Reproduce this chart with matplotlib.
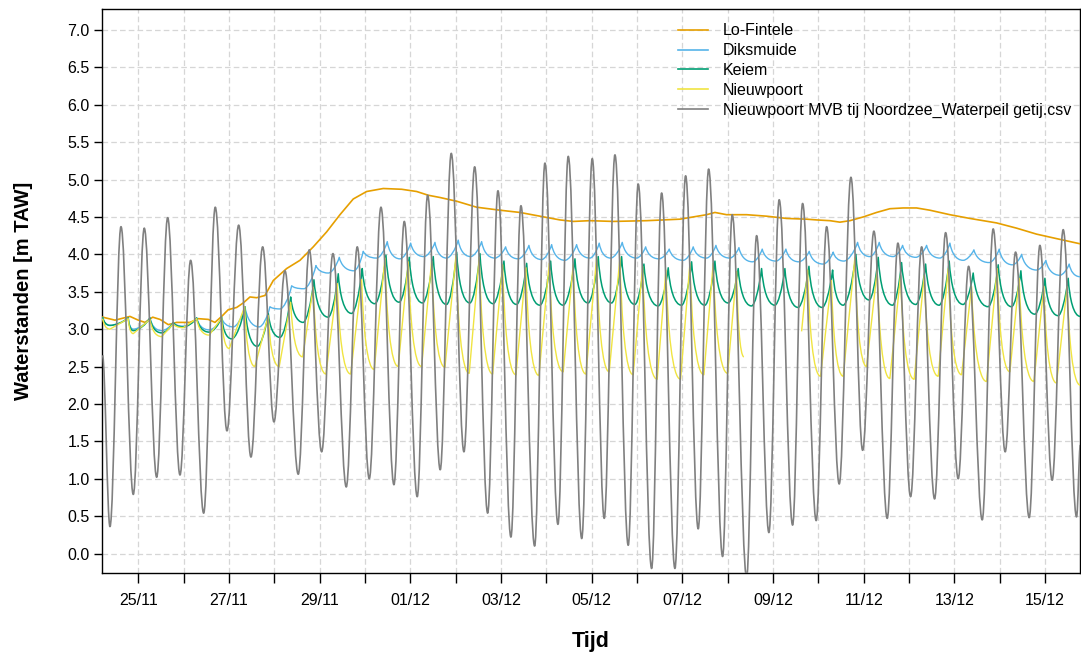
from datetime import datetime

import matplotlib
matplotlib.use("Agg")
import matplotlib.dates as mdates
import matplotlib.pyplot as plt
import numpy as np
from matplotlib.lines import Line2D
from matplotlib.patches import PathPatch
from matplotlib.path import Path
from matplotlib.ticker import FixedLocator, FormatStrFormatter

plt.rcParams["font.family"] = ["Liberation Sans", "DejaVu Sans"]

# time axis: days since 25/11 00:00, values in m TAW
START = datetime(2023, 11, 25)

# Lo-Fintele
t_lofintele = [-0.785, -0.514, -0.183, 0.000, 0.148, 0.318, 0.479, 0.662, 0.847, 1.140,
               1.323, 1.544, 1.691, 1.839, 1.985, 2.170, 2.315, 2.463, 2.610, 2.794,
               2.977, 3.272, 3.566, 3.859, 4.154, 4.448, 4.741, 5.036, 5.402, 5.808,
               6.139, 6.395, 6.653, 7.021, 7.462, 7.976, 8.417, 8.858, 9.299, 9.592,
               9.960, 10.474, 11.210, 11.945, 12.238, 12.533, 12.717, 12.975, 13.416, 13.857,
               14.298, 14.739, 14.959, 15.253, 15.473, 15.694, 15.987, 16.282, 16.575, 16.869,
               17.164, 17.457, 17.898, 18.339, 18.928, 19.369, 19.810, 20.251, 20.776]
v_lofintele = [3.16, 3.12, 3.17, 3.12, 3.09, 3.16, 3.13, 3.06, 3.09, 3.09,
               3.14, 3.13, 3.09, 3.17, 3.26, 3.29, 3.35, 3.43, 3.42, 3.45,
               3.65, 3.81, 3.92, 4.10, 4.30, 4.53, 4.74, 4.84, 4.88, 4.87,
               4.84, 4.79, 4.76, 4.71, 4.63, 4.59, 4.56, 4.51, 4.46, 4.44,
               4.45, 4.44, 4.45, 4.47, 4.50, 4.53, 4.56, 4.53, 4.53, 4.51,
               4.48, 4.47, 4.46, 4.45, 4.43, 4.45, 4.50, 4.56, 4.61, 4.62,
               4.62, 4.59, 4.53, 4.48, 4.42, 4.35, 4.27, 4.21, 4.14]

# Diksmuide
t_diksmuide = [-0.785, -0.624, -0.221, -0.110, 0.258, 0.516, 0.772, 0.992, 1.288, 1.566,
               1.839, 2.095, 2.353, 2.668, 2.904, 3.125, 3.383, 3.654, 3.918, 4.194,
               4.432, 4.756, 4.961, 5.257, 5.491, 5.771, 6.007, 6.300, 6.543, 6.800,
               7.056, 7.330, 7.572, 7.865, 8.101, 8.379, 8.615, 8.895, 9.116, 9.409,
               9.667, 9.960, 10.165, 10.417, 10.673, 10.990, 11.189, 11.482, 11.709, 12.018,
               12.238, 12.533, 12.739, 13.047, 13.246, 13.548, 13.760, 14.062, 14.282, 14.569,
               14.796, 15.105, 15.325, 15.561, 15.863, 16.135, 16.340, 16.648, 16.856, 17.149,
               17.385, 17.678, 17.899, 18.192, 18.428, 18.765, 18.986, 19.281, 19.480, 19.810,
               20.015, 20.324, 20.529, 20.776]
v_diksmuide = [3.16, 3.05, 3.15, 3.00, 3.15, 2.98, 3.09, 3.04, 3.15, 2.99,
               3.15, 3.03, 3.30, 3.03, 3.30, 3.27, 3.58, 3.54, 3.85, 3.75,
               3.96, 3.78, 4.04, 3.95, 4.17, 3.94, 4.15, 3.97, 4.16, 3.95,
               4.19, 3.97, 4.17, 3.95, 4.10, 3.94, 4.12, 3.93, 4.13, 3.92,
               4.13, 3.95, 4.15, 3.95, 4.16, 3.95, 4.10, 3.94, 4.07, 3.92,
               4.10, 3.95, 4.12, 3.95, 4.09, 3.90, 4.07, 3.91, 4.07, 3.90,
               4.04, 3.87, 4.03, 3.91, 4.16, 3.97, 4.16, 3.97, 4.12, 3.96,
               4.12, 3.95, 4.15, 3.92, 4.06, 3.89, 4.07, 3.86, 4.00, 3.79,
               3.92, 3.72, 3.87, 3.70]

# Keiem
t_keiem = [-0.785, -0.624, -0.221, -0.110, 0.258, 0.516, 0.772, 0.992, 1.288, 1.566,
           1.839, 2.060, 2.353, 2.624, 2.867, 3.125, 3.361, 3.638, 3.874, 4.190,
           4.410, 4.706, 4.939, 5.219, 5.462, 5.755, 5.976, 6.271, 6.505, 6.800,
           7.021, 7.314, 7.535, 7.828, 8.064, 8.344, 8.565, 8.858, 9.094, 9.371,
           9.630, 9.923, 10.143, 10.439, 10.659, 10.953, 11.151, 11.466, 11.687, 11.982,
           12.203, 12.496, 12.717, 13.010, 13.230, 13.526, 13.746, 14.040, 14.260, 14.553,
           14.790, 15.083, 15.312, 15.546, 15.826, 16.119, 16.318, 16.635, 16.833, 17.149,
           17.363, 17.663, 17.883, 18.192, 18.412, 18.743, 18.964, 19.259, 19.464, 19.773,
           19.994, 20.287, 20.507, 20.776]
v_keiem = [3.16, 3.05, 3.15, 2.98, 3.15, 2.95, 3.09, 3.03, 3.15, 2.96,
           3.16, 2.87, 3.30, 2.77, 3.21, 2.89, 3.43, 3.09, 3.66, 3.16,
           3.74, 3.21, 3.81, 3.34, 3.99, 3.36, 3.96, 3.35, 3.97, 3.33,
           4.03, 3.35, 4.01, 3.34, 3.91, 3.33, 3.88, 3.32, 3.91, 3.32,
           3.94, 3.35, 3.97, 3.35, 3.97, 3.33, 3.87, 3.31, 3.82, 3.32,
           3.90, 3.32, 3.91, 3.35, 3.81, 3.31, 3.81, 3.32, 3.81, 3.29,
           3.84, 3.29, 3.79, 3.32, 4.00, 3.39, 3.96, 3.32, 3.89, 3.33,
           3.87, 3.32, 3.91, 3.33, 3.75, 3.30, 3.86, 3.30, 3.78, 3.20,
           3.68, 3.18, 3.68, 3.17]

# Nieuwpoort (gap in the record around 08/12)
t_nieuwpoort = [-0.785, -0.624, -0.221, -0.110, 0.258, 0.516, 0.772, 0.992, 1.288, 1.566,
                1.839, 2.007, 2.346, 2.573, 2.867, 3.109, 3.361, 3.625, 3.859, 4.139,
                4.388, 4.684, 4.926, 5.204, 5.440, 5.733, 5.954, 6.249, 6.470, 6.763,
                7.006, 7.299, 7.519, 7.815, 8.035, 8.329, 8.549, 8.836, 9.063, 9.372,
                9.592, 9.872, 10.108, 10.386, 10.622, 10.915, 11.122, 11.444, 11.636, 11.960,
                12.165, 12.474, 12.679, 12.997, 13.195, 13.356, 14.000, 14.628, 14.761, 15.047,
                15.286, 15.546, 15.804, 16.062, 16.295, 16.575, 16.811, 17.111, 17.332, 17.641,
                17.861, 18.157, 18.377, 18.708, 18.942, 19.222, 19.427, 19.751, 19.971, 20.251,
                20.485, 20.776]
v_nieuwpoort = [3.14, 3.00, 3.14, 2.94, 3.13, 2.90, 3.07, 3.02, 3.14, 2.92,
                3.15, 2.74, 3.30, 2.50, 3.18, 2.50, 3.36, 2.63, 3.56, 2.40,
                3.61, 2.40, 3.66, 2.46, 3.95, 2.50, 3.90, 2.50, 3.91, 2.49,
                3.98, 2.41, 3.96, 2.40, 3.86, 2.39, 3.82, 2.38, 3.88, 2.43,
                3.86, 2.40, 3.95, 2.43, 3.95, 2.39, 3.84, 2.33, 3.79, 2.33,
                3.88, 2.39, 3.88, 2.41, 3.77, 2.63, np.nan, 2.97, 3.79, 2.37,
                3.65, 2.37, 3.96, 2.50, 3.79, 2.34, 3.72, 2.33, 3.72, 2.37,
                3.81, 2.39, 3.57, 2.30, 3.81, 2.43, 3.68, 2.30, 3.57, 2.28,
                3.57, 2.25]

# Nieuwpoort MVB (sea side) - high and low waters
t_getij = [-0.789, -0.624, -0.381, -0.110, 0.132, 0.406, 0.648, 0.920, 1.155, 1.442,
           1.698, 1.956, 2.214, 2.485, 2.743, 2.992, 3.235, 3.528, 3.771, 4.044,
           4.293, 4.587, 4.829, 5.094, 5.352, 5.638, 5.866, 6.152, 6.381, 6.659,
           6.902, 7.182, 7.418, 7.705, 7.932, 8.218, 8.439, 8.741, 8.968, 9.255,
           9.482, 9.780, 10.011, 10.276, 10.512, 10.805, 11.025, 11.321, 11.541, 11.835,
           12.070, 12.348, 12.578, 12.886, 13.098, 13.416, 13.636, 13.907, 14.134, 14.430,
           14.650, 14.950, 15.180, 15.458, 15.716, 15.974, 16.223, 16.516, 16.752, 17.032,
           17.275, 17.561, 17.804, 18.082, 18.311, 18.611, 18.853, 19.118, 19.347, 19.647,
           19.883, 20.154, 20.397, 20.692, 20.776]
v_getij = [2.65, 0.36, 4.37, 0.79, 4.35, 1.02, 4.49, 1.05, 3.92, 0.54,
           4.63, 1.64, 4.39, 1.29, 4.10, 1.76, 3.78, 1.06, 4.06, 1.36,
           4.01, 0.89, 4.10, 1.00, 4.63, 0.92, 4.44, 0.76, 4.79, 1.12,
           5.35, 1.36, 5.17, 0.54, 4.85, 0.22, 4.65, 0.10, 5.22, 0.39,
           5.31, 0.20, 5.28, 0.47, 5.33, 0.11, 4.94, -0.20, 4.82, -0.20,
           5.05, 0.33, 5.14, -0.04, 4.53, -0.32, 4.25, 0.28, 4.73, 0.38,
           4.68, 0.44, 4.37, 0.93, 5.03, 1.38, 4.31, 0.47, 4.15, 0.76,
           4.10, 0.73, 4.29, 1.00, 3.84, 0.45, 4.34, 1.36, 4.03, 0.48,
           4.12, 0.98, 4.33, 0.49, 1.45]

labels = ["Lo-Fintele", "Diksmuide", "Keiem", "Nieuwpoort",
          "Nieuwpoort MVB tij Noordzee_Waterpeil getij.csv"]
colors = ["#E69F00", "#56B4E9", "#009E73", "#F0E442", "#808080"]
y_ticks = np.arange(0.0, 7.01, 0.5)


def limb_path(t, v, style):
    """Path through turning points: rounded tide for the sea, sawtooth for the rivers."""
    verts, codes = [], []
    pen_up = True
    for x1, y1 in zip(t, v):
        if np.isnan(y1):
            pen_up = True
            continue
        if pen_up:
            verts.append((x1, y1))
            codes.append(Path.MOVETO)
            pen_up = False
            continue
        x0, y0 = verts[-1]
        dx, dy = x1 - x0, y1 - y0
        if style == "sea":
            c1, c2 = (x0 + 0.363 * dx, y0), (x1 - 0.363 * dx, y1)
        elif dy < 0:  # falling limb, fast then slow
            c1, c2 = (x0 + 0.12 * dx, y0 + 0.55 * dy), (x0 + 0.45 * dx, y1)
        elif style == "sharp":  # rising limb, nearly straight
            c1, c2 = (x0 + dx / 3, y0 + dy / 3), (x1 - dx / 3, y1 - dy / 3)
        else:
            c1, c2 = (x0 + 0.3 * dx, y0), (x1 - 0.25 * dx, y1 - 0.55 * dy)
        verts += [c1, c2, (x1, y1)]
        codes += [Path.CURVE4] * 3
    return Path(verts, codes)


base = mdates.date2num(START)

fig = plt.figure(figsize=(10.81, 6.57), dpi=100)
ax = fig.add_axes([0.0946, 0.1279, 0.9044, 0.8584])
ax.xaxis_date()

ax.plot(base + np.array(t_lofintele), v_lofintele, color=colors[0], lw=1.2, zorder=3)
for t, v, col, style, lw in [
    (t_diksmuide, v_diksmuide, colors[1], "round", 1.0),
    (t_keiem, v_keiem, colors[2], "round", 1.1),
    (t_nieuwpoort, v_nieuwpoort, colors[3], "sharp", 1.0),
    (t_getij, v_getij, colors[4], "sea", 1.2),
]:
    path = limb_path(base + np.array(t), np.array(v, dtype=float), style)
    ax.add_patch(PathPatch(path, fill=False, edgecolor=col, lw=lw, zorder=3,
                           capstyle="butt", joinstyle="round"))

ax.set_xlim(base - 0.794, base + 20.766)
ax.set_ylim(-0.26, 7.28)

ax.xaxis.set_major_locator(FixedLocator(base + np.arange(0, 21, 2)))
ax.xaxis.set_minor_locator(FixedLocator(base + np.arange(1, 21, 2)))
ax.xaxis.set_major_formatter(mdates.DateFormatter("%d/%m"))
ax.yaxis.set_major_locator(FixedLocator(y_ticks))
ax.yaxis.set_major_formatter(FormatStrFormatter("%.1f"))

ax.grid(True, which="both", color="#D6D6D6", lw=0.9, ls=(0, (4.5, 2.5)), zorder=0)
ax.tick_params(axis="x", which="both", direction="out", length=7.5, width=1.0,
               labelsize=11.5, pad=7, colors="black")
ax.tick_params(axis="y", direction="out", length=6, width=1.0, labelsize=11.5, pad=3)
for sp in ax.spines.values():
    sp.set_linewidth(1.0)
    sp.set_color("black")

ax.set_ylabel("Waterstanden [m TAW]", fontsize=14.5, fontweight="bold")
ax.yaxis.set_label_coords(-0.071, 0.5)
ax.set_xlabel("Tijd", fontsize=15.5, fontweight="bold")
ax.xaxis.set_label_coords(0.5, -0.103)

handles = [Line2D([], [], color=c, lw=1.2) for c in colors]
ax.legend(handles, labels, loc="upper left", bbox_to_anchor=(0.5888, 0.9746),
          frameon=False, fontsize=11.5, handlelength=1.87, handletextpad=0.94,
          labelspacing=0.3, borderpad=0, borderaxespad=0)

fig.savefig("out.png", dpi=100)
